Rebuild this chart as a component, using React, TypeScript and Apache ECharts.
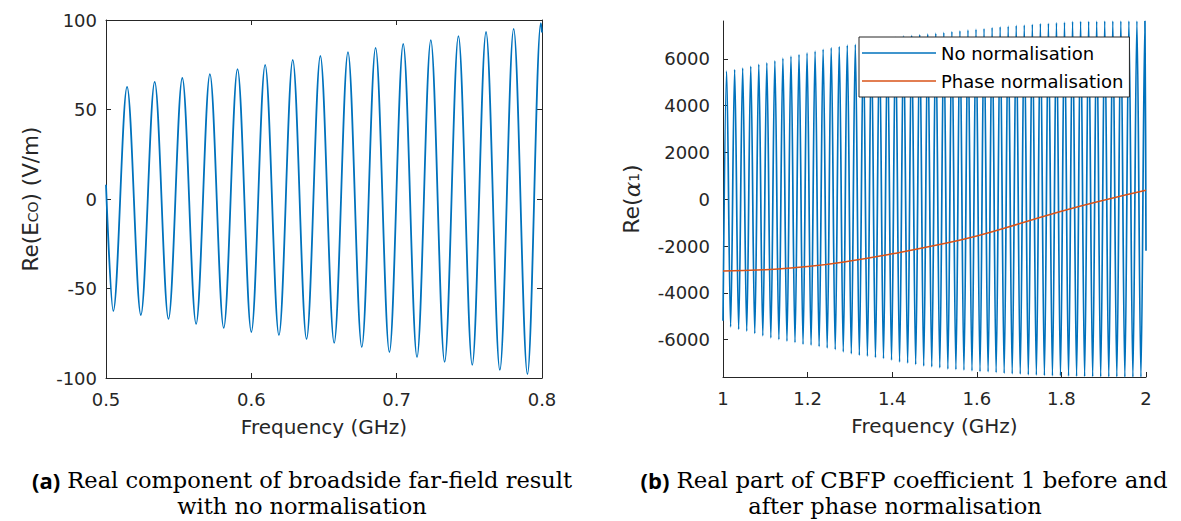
import React, { useEffect, useRef } from "react";
import * as echarts from "echarts";

// ---------- (a) Re(E_CO) vs frequency ----------
const farXTicks = [0.5, 0.6, 0.7, 0.8];
const farYTicks = [-100, -50, 0, 50, 100];
const farStart = [0.5, 8];
const farEnd = [0.8, 93];
const farTroughFreq = [0.505, 0.524, 0.543, 0.562, 0.581, 0.6, 0.619, 0.638, 0.657, 0.676, 0.695, 0.714, 0.733, 0.752, 0.771, 0.79];
const farTroughRe = [-62.6, -64.8, -67.0, -69.8, -72.0, -74.3, -76.0, -78.2, -80.4, -82.7, -85.5, -88.3, -91.0, -92.7, -95.5, -97.8];
const farPeakFreq = [0.5145, 0.5335, 0.5525, 0.5715, 0.5905, 0.6095, 0.6285, 0.6475, 0.6665, 0.6855, 0.7045, 0.7235, 0.7425, 0.7615, 0.7805, 0.7992];
const farPeakRe = [62.6, 65.4, 67.6, 69.8, 72.6, 74.9, 77.7, 79.9, 82.1, 84.4, 86.6, 88.8, 91.0, 93.3, 95.0, 98.3];

// ---------- (b) Re(alpha_1) vs frequency ----------
const alphaXTicks = [1, 1.2, 1.4, 1.6, 1.8, 2];
const alphaYTicks = [-6000, -4000, -2000, 0, 2000, 4000, 6000];
const alphaStart = [1.0, -5200];
const alphaEnd = [2.0, -2200];
const alphaPeakFreq = [
  1.0085, 1.0275, 1.0465, 1.0656, 1.0846, 1.1036, 1.1226, 1.1416, 1.1607, 1.1797,
  1.1987, 1.2177, 1.2367, 1.2558, 1.2748, 1.2938, 1.3128, 1.3318, 1.3509, 1.3699,
  1.3889, 1.4079, 1.4269, 1.446, 1.465, 1.484, 1.503, 1.522, 1.5411, 1.5601,
  1.5791, 1.5981, 1.6171, 1.6362, 1.6552, 1.6742, 1.6932, 1.7122, 1.7313, 1.7503,
  1.7693, 1.7883, 1.8073, 1.8264, 1.8454, 1.8644, 1.8834, 1.9024, 1.9215, 1.9405,
  1.9595, 1.9785, 1.9975,
];
const alphaPeakRe = [
  5475, 5545, 5610, 5685, 5770, 5835, 5920, 6035, 6115, 6185,
  6255, 6330, 6410, 6480, 6530, 6585, 6620, 6680, 6740, 6800,
  6860, 6920, 6980, 7010, 7040, 7070, 7100, 7130, 7170, 7200,
  7240, 7270, 7300, 7340, 7370, 7400, 7430, 7450, 7480, 7510,
  7520, 7550, 7570, 7600, 7605, 7610, 7615, 7618, 7620, 7620,
  7620, 7620, 7620,
];
const alphaTroughFreq = [
  1.018, 1.037, 1.0561, 1.0751, 1.0941, 1.1131, 1.1321, 1.1512, 1.1702, 1.1892,
  1.2082, 1.2272, 1.2463, 1.2653, 1.2843, 1.3033, 1.3223, 1.3414, 1.3604, 1.3794,
  1.3984, 1.4174, 1.4365, 1.4555, 1.4745, 1.4935, 1.5125, 1.5316, 1.5506, 1.5696,
  1.5886, 1.6076, 1.6267, 1.6457, 1.6647, 1.6837, 1.7027, 1.7218, 1.7408, 1.7598,
  1.7788, 1.7978, 1.8169, 1.8359, 1.8549, 1.8739, 1.8929, 1.912, 1.931, 1.95,
  1.969, 1.988,
];
const alphaTroughRe = [
  -5460, -5560, -5640, -5740, -5840, -5930, -6000, -6070, -6130, -6200,
  -6240, -6300, -6360, -6430, -6530, -6610, -6670, -6710, -6770, -6810,
  -6880, -6960, -7010, -7070, -7130, -7170, -7210, -7260, -7280, -7310,
  -7340, -7370, -7380, -7410, -7440, -7470, -7480, -7510, -7520, -7540,
  -7550, -7550, -7565, -7575, -7580, -7585, -7590, -7590, -7595, -7600,
  -7600, -7600,
];
const phaseFreq = [1.0, 1.1, 1.2, 1.3, 1.4, 1.5, 1.6, 1.7, 1.8, 1.9, 2.0];
const phaseRe = [-3070, -3010, -2880, -2640, -2330, -1980, -1570, -1050, -510, -40, 385];

const BLUE = "#0072BD";
const ORANGE = "#D95319";
const AX = "#262626";
const SANS = "'DejaVu Sans', sans-serif";
const SERIF = "'DejaVu Serif', serif";

function buildFar(): number[][] {
  const out: number[][] = [[farStart[0], farStart[1]]];
  for (let i = 0; i < farPeakFreq.length; i++) {
    out.push([farTroughFreq[i], farTroughRe[i]]);
    out.push([farPeakFreq[i], farPeakRe[i]]);
  }
  out.push([farEnd[0], farEnd[1]]);
  return out;
}

function buildAlpha(): number[][] {
  const out: number[][] = [[alphaStart[0], alphaStart[1]]];
  for (let i = 0; i < alphaPeakFreq.length; i++) {
    out.push([alphaPeakFreq[i], alphaPeakRe[i]]);
    if (i < alphaTroughFreq.length) out.push([alphaTroughFreq[i], alphaTroughRe[i]]);
  }
  out.push([alphaEnd[0], alphaEnd[1]]);
  return out;
}

const axLine = { show: true, onZero: false, lineStyle: { color: AX, width: 1 } };
const axTick = { show: true, inside: true, length: 5, lineStyle: { color: AX, width: 1 } };
const tickFont = { fontSize: 18, color: AX, fontFamily: SANS };
const capStyle = {
  fill: "#000", fontSize: 22.5, fontFamily: SERIF,
  align: "center", verticalAlign: "middle", textAlign: "center", textVerticalAlign: "middle",
  rich: { b: { fontFamily: "'Open Sans', sans-serif", fontWeight: "bold", fontSize: 22, fill: "#000" } },
};

export default function App() {
  const ref = useRef<HTMLDivElement>(null);
  useEffect(() => {
    const chart = echarts.init(ref.current as HTMLDivElement, undefined, { renderer: "svg" });
    const option: any = {
      animation: false,
      backgroundColor: "#ffffff",
      grid: [
        { left: 106, top: 20, width: 436, height: 358 },
        { left: 723, top: 21, width: 423, height: 356 },
      ],
      xAxis: [
        {
          gridIndex: 0, type: "value", min: farXTicks[0], max: farXTicks[farXTicks.length - 1], interval: 0.1,
          position: "bottom", axisLine: axLine, axisTick: axTick, splitLine: { show: false },
          axisLabel: { ...tickFont, margin: 12, formatter: (v: number) => v.toFixed(1) },
          name: "Frequency (GHz)", nameLocation: "middle", nameGap: 39,
          nameTextStyle: { fontSize: 20, color: AX, fontFamily: SANS },
        },
        {
          gridIndex: 0, type: "value", min: farXTicks[0], max: farXTicks[farXTicks.length - 1], interval: 0.1,
          position: "top", axisLine: axLine, axisTick: axTick, splitLine: { show: false }, axisLabel: { show: false },
        },
        {
          gridIndex: 1, type: "value", min: alphaXTicks[0], max: alphaXTicks[alphaXTicks.length - 1], interval: 0.2,
          position: "bottom", axisLine: axLine, axisTick: axTick, splitLine: { show: false },
          axisLabel: { ...tickFont, margin: 12, formatter: (v: number) => String(Number(v.toFixed(1))) },
          name: "Frequency (GHz)", nameLocation: "middle", nameGap: 39,
          nameTextStyle: { fontSize: 20, color: AX, fontFamily: SANS },
        },
      ],
      yAxis: [
        {
          gridIndex: 0, type: "value", min: farYTicks[0], max: farYTicks[farYTicks.length - 1], interval: 50,
          position: "left", axisLine: axLine, axisTick: axTick, splitLine: { show: false },
          axisLabel: { ...tickFont, margin: 9, formatter: (v: number) => String(v) },
          name: "{m|Re(E}{s|CO}{m|) (V/m)}", nameLocation: "middle", nameGap: 66, nameRotate: 90,
          nameTextStyle: {
            color: AX, fontFamily: SANS, fontSize: 21.5,
            rich: {
              m: { fontSize: 21.5, fontFamily: SANS, color: AX, lineHeight: 21, verticalAlign: "top" },
              s: { fontSize: 14, fontFamily: SANS, color: AX, lineHeight: 14, verticalAlign: "bottom", padding: [13, 0, 0, 0] },
            },
          },
        },
        {
          gridIndex: 0, type: "value", min: farYTicks[0], max: farYTicks[farYTicks.length - 1], interval: 50,
          position: "right", axisLine: axLine, axisTick: axTick, splitLine: { show: false }, axisLabel: { show: false },
        },
        {
          gridIndex: 1, type: "value", min: -7600, max: 7620,
          position: "left", axisLine: axLine,
          axisTick: { ...axTick, customValues: alphaYTicks }, splitLine: { show: false },
          axisLabel: { ...tickFont, margin: 13, customValues: alphaYTicks, formatter: (v: number) => String(v) },
          name: "{m|Re(}{a|α}{s|1}{m|)}", nameLocation: "middle", nameGap: 82, nameRotate: 90,
          nameTextStyle: {
            color: AX, fontFamily: SANS, fontSize: 22,
            rich: {
              m: { fontSize: 22, fontFamily: SANS, color: AX, lineHeight: 21, verticalAlign: "top" },
              a: { fontSize: 23, fontFamily: SERIF, fontStyle: "italic", color: AX, lineHeight: 21, verticalAlign: "top" },
              s: { fontSize: 14, fontFamily: SANS, color: AX, lineHeight: 14, verticalAlign: "bottom", padding: [13, 0, 0, 0] },
            },
          },
        },
      ],
      legend: {
        data: ["No normalisation", "Phase normalisation"],
        orient: "vertical", left: 859, top: 37,
        icon: "rect", itemWidth: 74, itemHeight: 1.3, itemGap: 10,
        padding: [7, 6, 7, 3],
        backgroundColor: "#ffffff", borderColor: AX, borderWidth: 1, borderRadius: 0,
        textStyle: { fontSize: 18, color: "#000000", fontFamily: SANS, lineHeight: 18 },
      },
      series: [
        {
          type: "line", xAxisIndex: 0, yAxisIndex: 0, data: buildFar(),
          symbol: "none", smooth: 0.34, smoothMonotone: "x", color: BLUE,
          lineStyle: { color: BLUE, width: 1.8 },
        },
        {
          name: "No normalisation", type: "line", xAxisIndex: 2, yAxisIndex: 2, data: buildAlpha(),
          symbol: "none", smooth: 0.34, smoothMonotone: "x", color: BLUE, itemStyle: { color: BLUE },
          lineStyle: { color: BLUE, width: 1.7 },
        },
        {
          name: "Phase normalisation", type: "line", xAxisIndex: 2, yAxisIndex: 2,
          data: phaseFreq.map((f, i) => [f, phaseRe[i]]),
          symbol: "none", smooth: true, color: ORANGE, itemStyle: { color: ORANGE },
          lineStyle: { color: ORANGE, width: 1.5 },
        },
      ],
      graphic: [
        { type: "text", x: 302, y: 480, style: { ...capStyle, text: "{b|(a)} Real component of broadside far-field result" } },
        { type: "text", x: 302, y: 506, style: { ...capStyle, text: "with no normalisation" } },
        { type: "text", x: 904, y: 480, style: { ...capStyle, fontSize: 22.8, text: "{b|(b)} Real part of CBFP coefficient 1 before and" } },
        { type: "text", x: 895, y: 506, style: { ...capStyle, text: "after phase normalisation" } },
      ],
    };
    chart.setOption(option);
    return () => chart.dispose();
  }, []);
  return (
    <div
      ref={ref}
      style={{ position: "fixed", left: 0, top: 0, width: 1181, height: 521, background: "#fff" }}
    />
  );
}
